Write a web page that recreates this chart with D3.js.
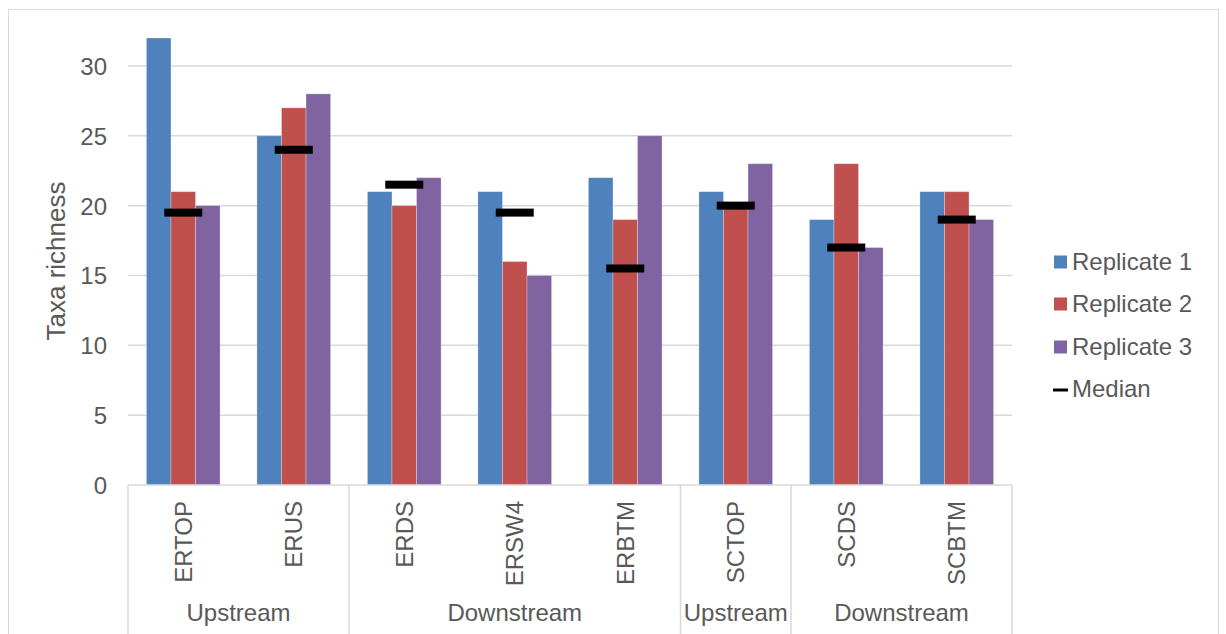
<!DOCTYPE html>
<html><head><meta charset="utf-8">
<script src="https://cdn.jsdelivr.net/npm/d3@7/dist/d3.min.js"></script>
<style>body{margin:0;background:#fff}svg{display:block;font-family:"Liberation Sans",Arial,sans-serif}</style>
</head><body><svg id="c" width="1226" height="634"></svg>
<script>
const categories = ["ERTOP","ERUS","ERDS","ERSW4","ERBTM","SCTOP","SCDS","SCBTM"];
const groups = [
  {name:"Upstream", from:0, to:2},
  {name:"Downstream", from:2, to:5},
  {name:"Upstream", from:5, to:6},
  {name:"Downstream", from:6, to:8}
];
const seriesNames = ["Replicate 1","Replicate 2","Replicate 3"];
const replicate1 = [32,25,21,21,22,21,19,21];
const replicate2 = [21,27,20,16,19,20,23,21];
const replicate3 = [20,28,22,15,25,23,17,19];
const median = [19.5,24,21.5,19.5,15.5,20,17,19];
const yTicks = [0,5,10,15,20,25,30];
const colors = ["#4F81BD","#C0504D","#8064A2"];

(function(){
const svg = d3.select("#c");
const pLeft = 128, pRight = 1012, pTop = 38, pBottom = 485;
const textCol = "#595959", gridCol = "#D9D9D9";
const fs = 24;

// outer border
svg.append("rect").attr("x",8.5).attr("y",9.5).attr("width",1210).attr("height",640)
  .attr("fill","none").attr("stroke",gridCol).attr("stroke-width",1);

const y = d3.scaleLinear().domain([0,32]).range([pBottom, pTop]);
const x0 = d3.scaleBand().domain(categories).range([pLeft,pRight]).padding(0);
// Excel gap width 150%: bars occupy 3/4.5 of category
const bw = x0.bandwidth();
const gap = bw*0.75/4.5;
const x1 = d3.scaleBand().domain([0,1,2]).range([gap, bw - gap]);

// gridlines
svg.append("g").selectAll("line").data(yTicks.filter(d=>d>0)).join("line")
  .attr("x1",pLeft).attr("x2",pRight).attr("y1",d=>y(d)).attr("y2",d=>y(d))
  .attr("stroke",gridCol).attr("stroke-width",1.5);

// y axis labels
const yAxis = d3.axisLeft(y).tickValues(yTicks).tickSize(0).tickPadding(0);
const ya = svg.append("g").attr("transform",`translate(107,0)`).call(yAxis);
ya.select(".domain").remove();
ya.selectAll("text").attr("font-size",fs).attr("fill",textCol).attr("font-family","Liberation Sans, Arial, sans-serif").attr("dy","0.35em");

// y title
svg.append("text").attr("transform",`translate(65,261) rotate(-90)`)
  .attr("text-anchor","middle").attr("font-size",26).attr("fill",textCol).text("Taxa richness");

// bars
const series = [replicate1, replicate2, replicate3];
series.forEach((vals,si)=>{
  svg.append("g").selectAll("rect").data(vals).join("rect")
    .attr("x",(d,i)=>x0(categories[i]) + x1(si))
    .attr("y",d=>y(d)).attr("width",x1.bandwidth()).attr("height",d=>y(0)-y(d))
    .attr("fill",colors[si]).attr("stroke","rgba(255,255,255,0.35)").attr("stroke-width",0.8);
});

// medians
svg.append("g").selectAll("rect").data(median).join("rect")
  .attr("x",(d,i)=>x0(categories[i]) + bw/2 - 19)
  .attr("y",d=>y(d)-4).attr("width",38).attr("height",8).attr("fill","#000");

// x axis line
svg.append("line").attr("x1",pLeft).attr("x2",pRight).attr("y1",pBottom).attr("y2",pBottom)
  .attr("stroke",gridCol).attr("stroke-width",1.5);

// group separators
const seps = [0].concat(groups.map(g=>g.to));
const sx = d => d<categories.length ? x0(categories[d]) : pRight;
svg.append("g").selectAll("line").data(seps).join("line")
  .attr("x1",sx).attr("x2",sx)
  .attr("y1",pBottom).attr("y2",634).attr("stroke",gridCol).attr("stroke-width",1.5);

// category labels
svg.append("g").selectAll("text").data(categories).join("text")
  .attr("transform",d=>`translate(${x0(d)+bw/2+8.6},501) rotate(-90)`)
  .attr("text-anchor","end").attr("font-size",fs).attr("fill",textCol).text(d=>d);

// group labels
svg.append("g").selectAll("text").data(groups).join("text")
  .attr("x",g=>(sx(g.from)+sx(g.to))/2)
  .attr("y",621).attr("text-anchor","middle").attr("font-size",fs).attr("fill",textCol).text(g=>g.name);

// legend
const lg = svg.append("g");
const rows = [262,304,347,389];
seriesNames.forEach((n,i)=>{
  lg.append("rect").attr("x",1054).attr("y",rows[i]-6.5).attr("width",13).attr("height",13).attr("fill",colors[i]);
  lg.append("text").attr("x",1072).attr("y",rows[i]).attr("dy","0.35em").attr("font-size",fs).attr("fill",textCol).text(n);
});
lg.append("line").attr("x1",1053).attr("x2",1068).attr("y1",rows[3]+1).attr("y2",rows[3]+1).attr("stroke","#000").attr("stroke-width",3);
lg.append("text").attr("x",1072).attr("y",rows[3]).attr("dy","0.35em").attr("font-size",fs).attr("fill",textCol).text("Median");
})();
</script></body></html>
